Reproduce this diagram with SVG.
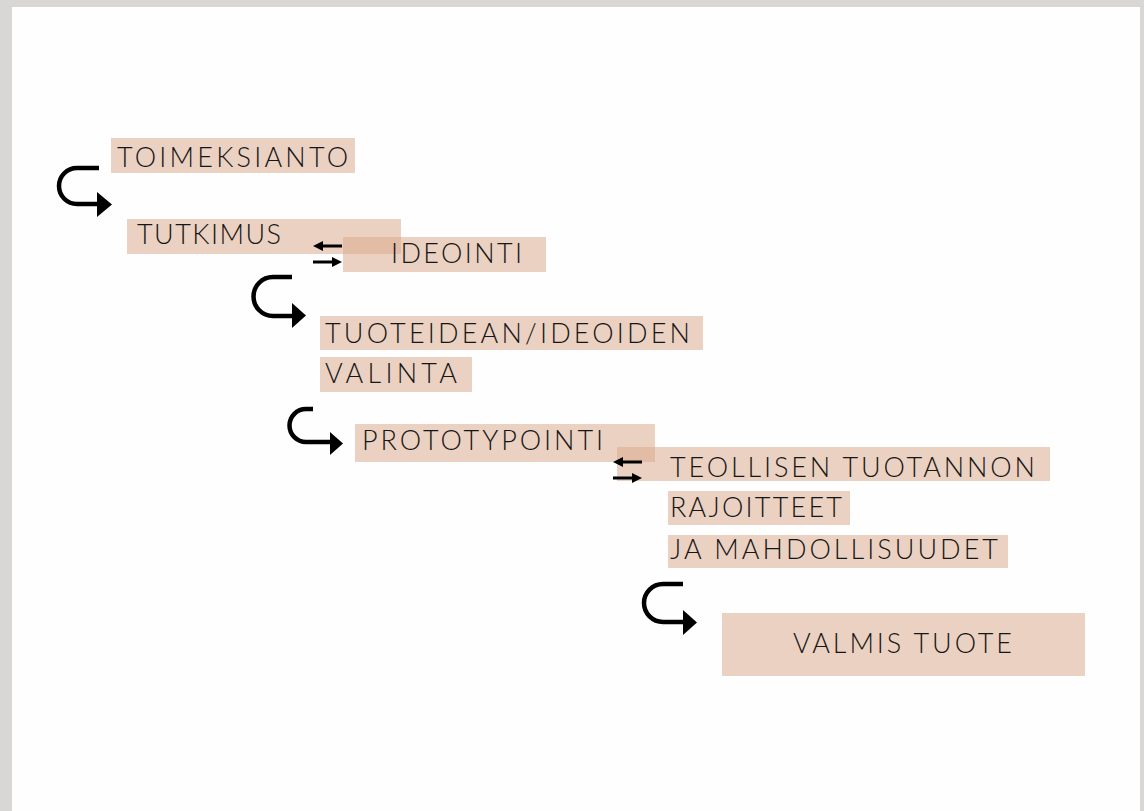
<svg xmlns="http://www.w3.org/2000/svg" width="1144" height="811" viewBox="0 0 1144 811">
<defs>
<style>
.box{fill:#dbab8e;fill-opacity:0.55}
.lbl{font-family:Lato,"Liberation Sans",sans-serif;font-weight:300;font-size:27px;fill:#161616;}
.curve{fill:none;stroke:#000;stroke-width:4.5}
.swap{stroke:#000;stroke-width:3;fill:none}
.head{fill:#000}
</style>
<marker id="sh" viewBox="0 0 10 10" refX="1" refY="5" markerWidth="10" markerHeight="10" markerUnits="userSpaceOnUse" orient="auto">
<path d="M0,0 L10,5 L0,10 Z" fill="#000"/>
</marker>
</defs>
<rect x="0" y="0" width="1144" height="811" fill="#d8d7d6"/>
<rect x="12" y="7" width="1128" height="804" fill="#fefefe"/>

<g id="toimeksianto">
<rect class="box" x="111" y="138" width="244" height="35"/>
<text class="lbl" x="117" y="167" textLength="231" lengthAdjust="spacing">TOIMEKSIANTO</text>
</g>
<g id="tutkimus">
<rect class="box" x="127" y="219" width="274" height="35"/>
<text class="lbl" x="137" y="244" textLength="144" lengthAdjust="spacing">TUTKIMUS</text>
</g>
<g id="ideointi">
<rect class="box" x="343" y="237" width="203" height="35"/>
<text class="lbl" x="391" y="263" textLength="131" lengthAdjust="spacing">IDEOINTI</text>
</g>
<g id="valinta">
<rect class="box" x="320" y="316" width="383" height="34"/>
<rect class="box" x="320" y="357" width="152" height="35"/>
<text class="lbl" x="325" y="343" textLength="365" lengthAdjust="spacing">TUOTEIDEAN/IDEOIDEN</text>
<text class="lbl" x="325" y="383" textLength="132" lengthAdjust="spacing">VALINTA</text>
</g>
<g id="prototypointi">
<rect class="box" x="355" y="424" width="300" height="38"/>
<text class="lbl" x="362" y="450" textLength="241" lengthAdjust="spacing">PROTOTYPOINTI</text>
</g>
<g id="teollisen">
<rect class="box" x="617" y="447" width="433" height="34"/>
<rect class="box" x="668" y="491" width="182" height="34"/>
<rect class="box" x="668" y="535" width="340" height="33"/>
<text class="lbl" x="670" y="477" textLength="365" lengthAdjust="spacing">TEOLLISEN TUOTANNON</text>
<text class="lbl" x="670" y="517" textLength="172" lengthAdjust="spacing">RAJOITTEET</text>
<text class="lbl" x="670" y="559" textLength="328" lengthAdjust="spacing">JA MAHDOLLISUUDET</text>
</g>
<g id="valmis">
<rect class="box" x="722" y="613" width="363" height="63"/>
<text class="lbl" x="793" y="653" textLength="219" lengthAdjust="spacing">VALMIS TUOTE</text>
</g>

<g id="connectors">
<path class="curve" d="M99,168 H77 A18,18 0 0 0 77,204 H99"/>
<path class="head" d="M97,192 L112,204.5 L97,217 Z"/>
<path class="curve" d="M292,277 H273 A19.5,19.5 0 0 0 273,316 H294"/>
<path class="head" d="M292,303 L306,315.5 L292,328 Z"/>
<path class="curve" d="M313,409 H306 A16.5,16.5 0 0 0 306,442 H332"/>
<path class="head" d="M330,432 L343,443.5 L330,455 Z"/>
<path class="curve" d="M683,584 H663 A19,19 0 0 0 663,622 H685"/>
<path class="head" d="M683,610 L697,622.5 L683,635 Z"/>
<line class="swap" x1="342" y1="246" x2="322" y2="246" marker-end="url(#sh)"/>
<line class="swap" x1="313" y1="262" x2="333" y2="262" marker-end="url(#sh)"/>
<line class="swap" x1="642" y1="462" x2="622" y2="462" marker-end="url(#sh)"/>
<line class="swap" x1="613" y1="478" x2="633" y2="478" marker-end="url(#sh)"/>
</g>
</svg>
